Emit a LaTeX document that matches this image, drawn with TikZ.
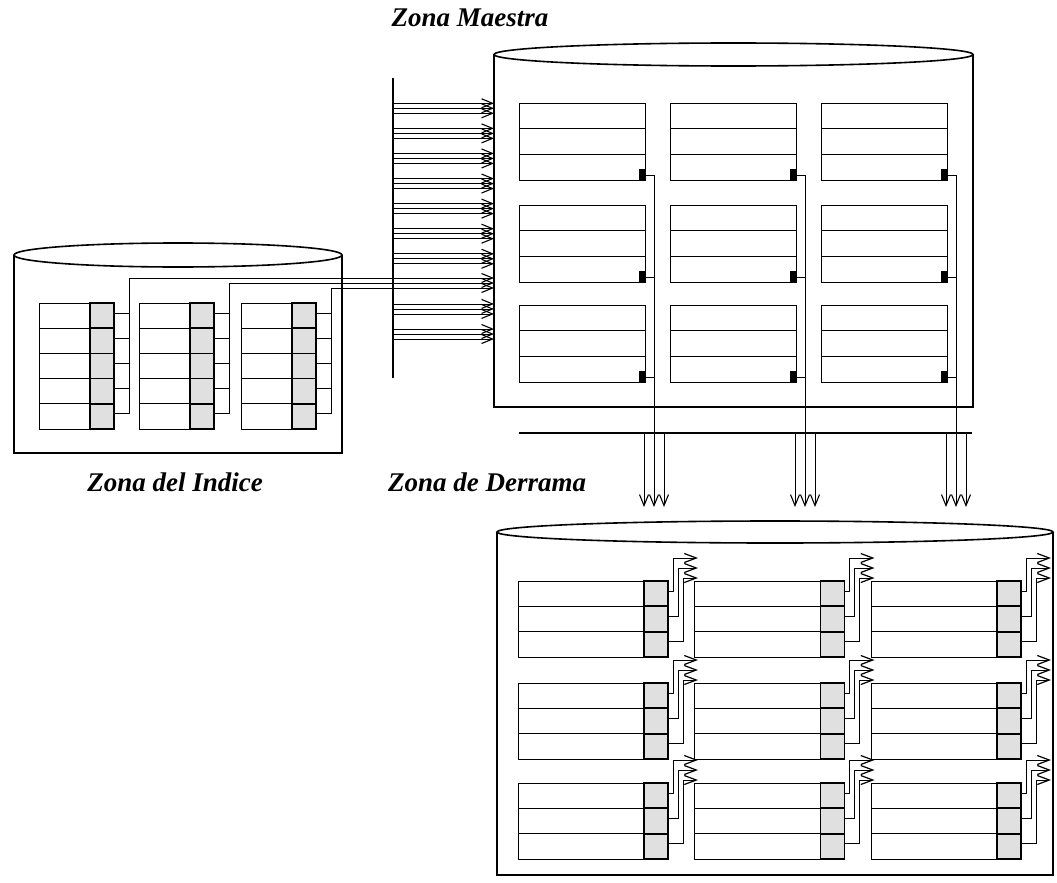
\documentclass[tikz,border=0pt]{standalone}
\usepackage{fontspec}
\setmainfont{Liberation Serif}
\usetikzlibrary{arrows.meta}
\begin{document}
\begin{tikzpicture}[x=1pt,y=-1pt,
  wall/.style={line width=1.6pt},
  rec/.style={line width=0.9pt},
  shadecell/.style={draw, fill=black!12, line width=1.7pt},
  conn/.style={line width=0.8pt},
  arr/.style={conn,-{Straight Barb[length=11pt,width=9pt,line width=1.1pt]}},
  spillarr/.style={conn,-{Straight Barb[length=12pt,width=9pt,line width=1.2pt]}},
  lbl/.style={font=\fontsize{27}{32}\selectfont\bfseries\itshape, inner sep=0pt}]
\useasboundingbox (0,0) rectangle (1057,883);

% ---------- labels ----------
\node[lbl, anchor=base] (lmaestra) at (470,27) {Zona Maestra};
\node[lbl, anchor=base] (lindice) at (175,491) {Zona del Indice};
\node[lbl, anchor=base west] (lderrama) at (388,491) {Zona de Derrama};

% ---------- index cylinder ----------
\draw[wall] (178,255) ellipse [x radius=164, y radius=12];
\draw[wall] (14,255) -- (14,453) -- (342,453) -- (342,255);

% ---------- master cylinder ----------
\draw[wall] (733.5,54.5) ellipse [x radius=239.5, y radius=11.5];
\draw[wall] (494,54.5) -- (494,407) -- (973,407) -- (973,54.5);

% ---------- spill cylinder ----------
\draw[wall] (775,532) ellipse [x radius=278, y radius=11];
\draw[wall] (497,532) -- (497,875) -- (1053,875) -- (1053,532);

% ---------- bus to master ----------
\coordinate (bustop) at (393,78);
\coordinate (busbot) at (393,378);
\draw[line width=1.3pt] (bustop) -- (busbot);
\foreach \k in {0,...,6,8,9}{
  \foreach \d in {-5,0,5}{
    \coordinate (bs) at (393,108.3+25.08*\k+\d);
    \coordinate (be) at (494,108.3+25.08*\k+\d);
    \draw[arr] (bs) -- (be);
  }
}

% ---------- index records ----------
\foreach \L [count=\c] in {39,139,241}{
  \foreach \r in {0,...,4}{
    \draw[conn] (\L+75,313+25.2*\r) -- (\L+90,313+25.2*\r);
  }
  \coordinate (iv\c) at (\L+90,278+5*\c-5);
  \coordinate (im\c) at (494,278+5*\c-5);
  \draw[conn] (\L+90,413.8) -- (iv\c);
  \draw[arr] (iv\c) -- (im\c);
  \draw[rec] (\L,303) rectangle (\L+75,429);
  \foreach \r in {1,...,4}{
    \draw[rec] (\L,303+25.2*\r) -- (\L+51,303+25.2*\r);
  }
  \foreach \r in {0,...,4}{
    \draw[shadecell] (\L+51,303+25.2*\r) rectangle (\L+75,328.2+25.2*\r);
  }
}

% ---------- master records ----------
\foreach \L in {519,670,821}{
  \foreach \T in {103,205,305}{
    \draw[rec] (\L,\T) rectangle (\L+126,\T+77);
    \draw[rec] (\L,\T+25.67) -- (\L+126,\T+25.67);
    \draw[rec] (\L,\T+51.33) -- (\L+126,\T+51.33);
    \fill (\L+120,\T+66) rectangle (\L+126,\T+77);
    \draw[conn] (\L+126,\T+72) -- (\L+135,\T+72);
  }
  \coordinate (mv) at (\L+135,175);
  \coordinate (mt) at (\L+135,507);
  \draw[arr] (mv) -- (mt);
  \draw[arr] (\L+125,433) -- (\L+125,507);
  \draw[arr] (\L+145,433) -- (\L+145,507);
}
\coordinate (sbl) at (519,433);
\coordinate (sbr) at (972,433);
\draw[line width=1.3pt] (sbl) -- (sbr);

% ---------- spill records ----------
\foreach \L in {518,694.5,871}{
  \foreach \T in {581,683,783}{
    \foreach \i in {0,1,2}{
      \draw[spillarr] (\L+150,\T+10+25.33*\i) -- (\L+155+5*\i,\T+10+25.33*\i)
        -- (\L+155+5*\i,\T-23+10*\i) -- (\L+180,\T-23+10*\i);
    }
    \draw[rec] (\L,\T) rectangle (\L+150,\T+76);
    \draw[rec] (\L,\T+25.33) -- (\L+126,\T+25.33);
    \draw[rec] (\L,\T+50.67) -- (\L+126,\T+50.67);
    \foreach \i in {0,1,2}{
      \draw[shadecell] (\L+126,\T+25.33*\i) rectangle (\L+150,\T+25.33*\i+25.33);
    }
  }
}
\end{tikzpicture}
\end{document}
